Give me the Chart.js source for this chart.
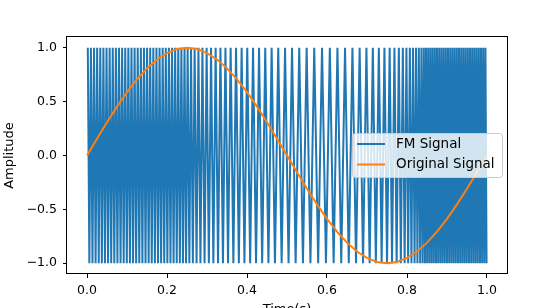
<!DOCTYPE html>
<html>
<head>
<meta charset="utf-8">
<script src="https://cdn.jsdelivr.net/npm/chart.js@4.4.0/dist/chart.umd.min.js"></script>
<style>
html, body { margin: 0; padding: 0; background: #fff; overflow: hidden; }
#wrap { width: 540px; height: 308px; overflow: hidden; }
</style>
</head>
<body>
<div id="wrap"><canvas id="grafico" width="540" height="320"></canvas></div>
<script>
// tick labels
const xTickValues = [0.0, 0.2, 0.4, 0.6, 0.8, 1.0];
const yTickValues = [-1.0, -0.5, 0.0, 0.5, 1.0];

// FM signal: times (s) of the crests (+1) and troughs (-1)
const fmPeakTimes = [
  0.0020, 0.0098, 0.0176, 0.0254, 0.0332, 0.0410, 0.0488, 0.0566, 0.0644, 0.0722,
  0.0800, 0.0878, 0.0956, 0.1034, 0.1112, 0.1190, 0.1268, 0.1346, 0.1424, 0.1502,
  0.1580, 0.1658, 0.1736, 0.1814, 0.1892, 0.1970, 0.2048, 0.2126, 0.2204, 0.2282,
  0.2360, 0.2438, 0.2516, 0.2601, 0.2691, 0.2786, 0.2886, 0.2991, 0.3101, 0.3216,
  0.3336, 0.3461, 0.3591, 0.3726, 0.3866, 0.4006, 0.4151, 0.4301, 0.4456, 0.4616,
  0.4781, 0.4951, 0.5126, 0.5306, 0.5491, 0.5681, 0.5876, 0.6071, 0.6261, 0.6451,
  0.6636, 0.6816, 0.6986, 0.7146, 0.7296, 0.7436, 0.7566, 0.7686, 0.7796, 0.7896,
  0.7986, 0.8071, 0.8151, 0.8226, 0.8296, 0.8361, 0.8421, 0.8476, 0.8531, 0.8586,
  0.8641, 0.8696, 0.8751, 0.8806, 0.8861, 0.8916, 0.8971, 0.9026, 0.9081, 0.9136,
  0.9191, 0.9246, 0.9301, 0.9356, 0.9411, 0.9466, 0.9521, 0.9576, 0.9631, 0.9686,
  0.9741, 0.9796, 0.9851, 0.9906, 0.9961
];
const fmTroughTimes = [
  0.0059, 0.0137, 0.0215, 0.0293, 0.0371, 0.0449, 0.0527, 0.0605, 0.0683, 0.0761,
  0.0839, 0.0917, 0.0995, 0.1073, 0.1151, 0.1229, 0.1307, 0.1385, 0.1463, 0.1541,
  0.1619, 0.1697, 0.1775, 0.1853, 0.1931, 0.2009, 0.2087, 0.2165, 0.2243, 0.2321,
  0.2399, 0.2477, 0.2559, 0.2646, 0.2739, 0.2836, 0.2939, 0.3046, 0.3159, 0.3276,
  0.3399, 0.3526, 0.3659, 0.3796, 0.3936, 0.4079, 0.4226, 0.4379, 0.4536, 0.4699,
  0.4866, 0.5039, 0.5216, 0.5399, 0.5586, 0.5779, 0.5974, 0.6166, 0.6356, 0.6544,
  0.6726, 0.6901, 0.7066, 0.7221, 0.7366, 0.7501, 0.7626, 0.7741, 0.7846, 0.7941,
  0.8029, 0.8111, 0.8189, 0.8261, 0.8329, 0.8391, 0.8449, 0.8504, 0.8559, 0.8614,
  0.8669, 0.8724, 0.8779, 0.8834, 0.8889, 0.8944, 0.8999, 0.9054, 0.9109, 0.9164,
  0.9219, 0.9274, 0.9329, 0.9384, 0.9439, 0.9494, 0.9549, 0.9604, 0.9659, 0.9714,
  0.9769, 0.9824, 0.9879, 0.9934, 0.9989
];
const fmPeakLevel = 1.0;
const fmTroughLevel = -1.0;

// original (modulating) signal
const originalTimes = [
  0.000, 0.025, 0.050, 0.075, 0.100, 0.125, 0.150, 0.175, 0.200, 0.225,
  0.250, 0.275, 0.300, 0.325, 0.350, 0.375, 0.400, 0.425, 0.450, 0.475,
  0.500, 0.525, 0.550, 0.575, 0.600, 0.625, 0.650, 0.675, 0.700, 0.725,
  0.750, 0.775, 0.800, 0.825, 0.850, 0.875, 0.900, 0.925, 0.950, 0.975, 1.000
];
const originalValues = [
  0.000, 0.156, 0.309, 0.454, 0.588, 0.707, 0.809, 0.891, 0.951, 0.988,
  1.000, 0.988, 0.951, 0.891, 0.809, 0.707, 0.588, 0.454, 0.309, 0.156,
  0.000, -0.156, -0.309, -0.454, -0.588, -0.707, -0.809, -0.891, -0.951, -0.988,
  -1.000, -0.988, -0.951, -0.891, -0.809, -0.707, -0.588, -0.454, -0.309, -0.156, 0.000
];

const seriesLabels = ['FM Signal', 'Original Signal'];
const seriesColors = ['#1f77b4', '#ff7f0e'];

function fmtTick(v) {
  return v.toFixed(1).replace('-', '\u2212');
}

function buildFmPoints() {
  const crests = fmPeakTimes.map(t => ({ x: t, y: fmPeakLevel }));
  const troughs = fmTroughTimes.map(t => ({ x: t, y: fmTroughLevel }));
  return crests.concat(troughs).sort((a, b) => a.x - b.x);
}

// full box round the plot, like the matplotlib spines
const frame = {
  id: 'frame',
  afterDatasetsDraw(chart) {
    const { ctx, chartArea: a } = chart;
    ctx.save();
    ctx.strokeStyle = '#000';
    ctx.lineWidth = 1;
    ctx.strokeRect(Math.round(a.left) - 0.5, Math.round(a.top) - 0.5,
      Math.round(a.right - a.left) + 1, Math.round(a.bottom - a.top));
    ctx.restore();
  }
};

// legend box at the right middle of the plot
const insideLegend = {
  id: 'insideLegend',
  afterDraw(chart) {
    const ctx = chart.ctx;
    const box = { x: 352, y: 133, w: 150, h: 44 };
    ctx.save();
    ctx.beginPath();
    ctx.roundRect(box.x + 0.5, box.y + 0.5, box.w, box.h, 3);
    ctx.fillStyle = 'rgba(255,255,255,0.8)';
    ctx.fill();
    ctx.strokeStyle = '#cccccc';
    ctx.lineWidth = 1;
    ctx.stroke();
    ctx.font = '13.5px "DejaVu Sans"';
    ctx.textBaseline = 'middle';
    ctx.fillStyle = '#000';
    chart.data.datasets.forEach((ds, i) => {
      const y = box.y + 11 + i * 20.5;
      ctx.beginPath();
      ctx.moveTo(357, y);
      ctx.lineTo(385, y);
      ctx.strokeStyle = ds.borderColor;
      ctx.lineWidth = 2;
      ctx.stroke();
      ctx.fillText(ds.label, 396, y);
    });
    ctx.restore();
  }
};

const axisGrid = { display: true, drawOnChartArea: false, drawTicks: true, tickLength: 4, color: '#000', lineWidth: 1 };

new Chart(document.getElementById('grafico').getContext('2d'), {
  type: 'line',
  data: {
    datasets: [
      {
        label: seriesLabels[0],
        data: buildFmPoints(),
        borderColor: seriesColors[0],
        borderWidth: 2,
        pointRadius: 0,
        tension: 0,
        order: 2
      },
      {
        label: seriesLabels[1],
        data: originalTimes.map((t, i) => ({ x: t, y: originalValues[i] })),
        borderColor: seriesColors[1],
        borderWidth: 2,
        pointRadius: 0,
        tension: 0,
        order: 1
      }
    ]
  },
  options: {
    responsive: false,
    animation: false,
    devicePixelRatio: 1,
    events: [],
    layout: { padding: { left: 0, top: 37, right: 33, bottom: 0 } },
    plugins: { legend: { display: false }, tooltip: { enabled: false } },
    scales: {
      x: {
        type: 'linear',
        min: -0.05,
        max: 1.05,
        afterBuildTicks: axis => { axis.ticks = xTickValues.map(v => ({ value: v })); },
        afterFit: axis => { axis.height = 46; },
        grid: axisGrid,
        border: { display: false },
        ticks: { padding: 5, color: '#000', autoSkip: false, maxRotation: 0,
                 font: { family: 'DejaVu Sans', size: 12.5 }, callback: v => fmtTick(v) },
        title: { display: true, text: 'Time(s)', color: '#000',
                 font: { family: 'DejaVu Sans', size: 13 }, padding: { top: 0, bottom: 3 } }
      },
      y: {
        type: 'linear',
        min: -1.1,
        max: 1.1,
        afterBuildTicks: axis => { axis.ticks = yTickValues.map(v => ({ value: v })); },
        afterFit: axis => { axis.width = 67; },
        grid: axisGrid,
        border: { display: false },
        ticks: { padding: 6, color: '#000', autoSkip: false,
                 font: { family: 'DejaVu Sans', size: 12.5 }, callback: v => fmtTick(v) },
        title: { display: true, text: 'Amplitude', color: '#000',
                 font: { family: 'DejaVu Sans', size: 13 }, padding: { top: 2, bottom: 0 } }
      }
    }
  },
  plugins: [frame, insideLegend]
});
</script>
</body>
</html>
